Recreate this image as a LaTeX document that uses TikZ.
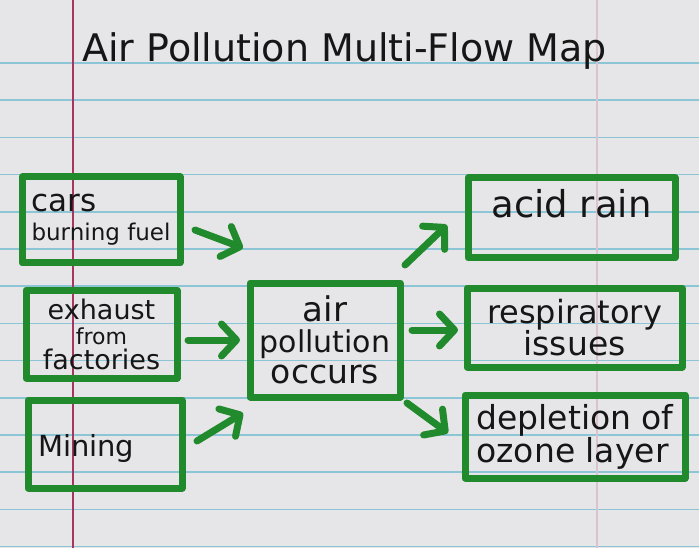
\documentclass[tikz,border=0pt]{standalone}
\usepackage{fontspec}
\setmainfont{DejaVu Sans}
\usetikzlibrary{positioning,arrows.meta}
\definecolor{paperclr}{RGB}{230,230,232}
\definecolor{ruleclr}{RGB}{140,198,214}
\definecolor{marginclr}{RGB}{165,55,95}
\definecolor{inkclr}{RGB}{32,138,44}
\definecolor{penclr}{RGB}{22,22,22}
\tikzset{
    box/.style={rectangle,draw=inkclr,line width=7pt,line join=round,text=penclr,inner sep=0pt,font=\fontsize{30}{30}\selectfont},
    flow/.style={draw=inkclr,line width=7pt,line cap=round,-{Straight Barb[length=15pt,width=32pt,line join=round,line cap=round]}},
    ruled/.style={draw=ruleclr,line width=1.6pt},
}

\begin{document}
\begin{tikzpicture}[x=1pt,y=-1pt]
\useasboundingbox (0,0) rectangle (699,548);
\fill[paperclr] (0,0) rectangle (699,548);
\foreach \k in {0,...,13}
  \draw[ruled] (0,63+37.2*\k) -- (699,63+37.2*\k);
\draw[marginclr,line width=1.8pt] (73,0) -- (73,548);
\draw[marginclr!20!paperclr,line width=1.2pt] (597,0) -- (597,548);

\node[anchor=base west,text=penclr,inner sep=0pt,font=\fontsize{38}{40}\selectfont] (title) at (82,62) {Air Pollution Multi-Flow Map};

\node[box,minimum width=158pt,minimum height=86pt,align=left,font=\fontsize{30}{29}\selectfont] (cars) at (101,220)
  {{\fontsize{31}{29}\selectfont cars}\\{\fontsize{23}{29}\selectfont burning fuel}};
\node[box,minimum width=151pt,minimum height=88pt,align=center,font=\fontsize{27}{25}\selectfont] (exhaust) at (101.5,334)
  {exhaust\\{\fontsize{22}{25}\selectfont from}\\factories};
\node[box,minimum width=154pt,minimum height=88pt] (mining) at (105,444)
  {\makebox[134pt][l]{\raisebox{-4pt}[\height][\depth]{\fontsize{29}{30}\selectfont Mining}}};
\node[box,minimum width=150pt,minimum height=114pt,align=center,font=\fontsize{30}{31}\selectfont] (air) at (325,340)
  {{\fontsize{34}{31}\selectfont air}\\pollution\\{\fontsize{33}{31}\selectfont occurs}};
\node[box,minimum width=207pt,minimum height=80pt] (acid) at (571.5,218)
  {\raisebox{14pt}[\height][\depth]{\fontsize{37}{38}\selectfont acid rain}};
\node[box,minimum width=215pt,minimum height=79pt,align=center,font=\fontsize{32}{28}\selectfont] (resp) at (574.5,327.5)
  {respiratory\\{\fontsize{33}{28}\selectfont issues}};
\node[box,minimum width=220pt,minimum height=83pt,align=left,font=\fontsize{33}{33}\selectfont] (ozone) at (575,436.5)
  {depletion of\\ozone layer};

\coordinate (cars-a) at (195,230);
\coordinate (cars-b) at (243,248);
\coordinate (exhaust-a) at (188,340);
\coordinate (exhaust-b) at (240,340);
\coordinate (mining-a) at (197,441);
\coordinate (mining-b) at (243,413);
\coordinate (acid-a) at (405,265);
\coordinate (acid-b) at (447,225);
\coordinate (resp-a) at (412,330);
\coordinate (resp-b) at (458,330);
\coordinate (ozone-a) at (407,403);
\coordinate (ozone-b) at (448,433);

\draw[flow] (cars-a) -- (cars-b);
\draw[flow] (exhaust-a) -- (exhaust-b);
\draw[flow] (mining-a) -- (mining-b);
\draw[flow] (acid-a) -- (acid-b);
\draw[flow] (resp-a) -- (resp-b);
\draw[flow] (ozone-a) -- (ozone-b);
\end{tikzpicture}
\end{document}
